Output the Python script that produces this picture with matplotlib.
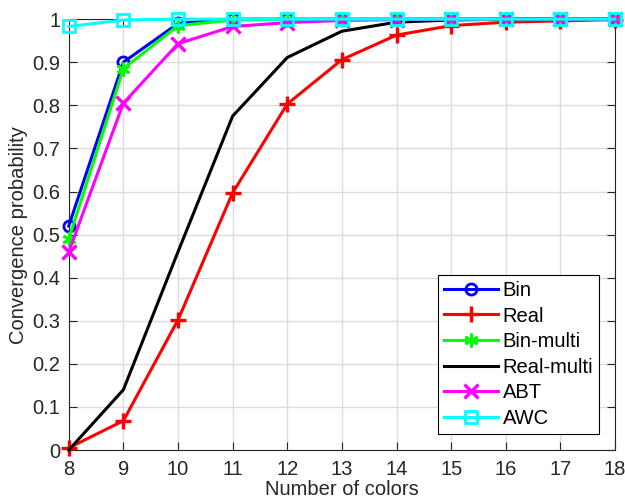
import numpy as np
import matplotlib.pyplot as plt

plt.rcParams['font.family'] = ['Liberation Sans', 'DejaVu Sans']

colors_n = [8, 9, 10, 11, 12, 13, 14, 15, 16, 17, 18]
p_bin = [0.52, 0.90, 0.99, 1.0, 1.0, 1.0, 1.0, 1.0, 1.0, 1.0, 1.0]
p_real = [0.005, 0.068, 0.302, 0.597, 0.803, 0.906, 0.963, 0.985, 0.993, 0.996, 0.999]
p_bin_multi = [0.49, 0.885, 0.985, 0.998, 0.999, 1.0, 1.0, 1.0, 1.0, 1.0, 1.0]
p_real_multi = [0.0, 0.14, 0.46, 0.775, 0.911, 0.972, 0.993, 0.998, 1.0, 1.0, 1.0]
p_abt = [0.46, 0.805, 0.943, 0.983, 0.992, 0.997, 0.999, 1.0, 1.0, 1.0, 1.0]
p_awc = [0.983, 0.998, 1.0, 1.0, 1.0, 1.0, 1.0, 1.0, 1.0, 1.0, 1.0]

fig = plt.figure(figsize=(6.25, 5.04), dpi=100)
ax = fig.add_axes([0.110, 0.107, 0.874, 0.855])

lw = 2.2
kw = dict(lw=lw, clip_on=False, zorder=3)
ax.plot(colors_n, p_bin, color='#0000ff', marker='o', ms=8, mfc='none', mew=2, label='Bin', **kw)
ax.plot(colors_n, p_real, color='#ff0000', marker='+', ms=12, mew=2.4, label='Real', **kw)
ax.plot(colors_n, p_bin_multi, color='#00ff00', marker=(6, 2, 0), ms=10, mew=2, label='Bin-multi', **kw)
ax.plot(colors_n, p_real_multi, color='black', label='Real-multi', **kw)
ax.plot(colors_n, p_abt, color='#ff00ff', marker='x', ms=10, mew=2.4, label='ABT', **kw)
ax.plot(colors_n, p_awc, color='#00ffff', marker='s', ms=8, mfc='none', mew=2, label='AWC', **kw)

ax.set_xlim(8, 18)
ax.set_ylim(0, 1)
ax.set_xticks(range(8, 19))
ax.set_yticks(np.arange(0, 1.01, 0.1))
ax.set_yticklabels(['0', '0.1', '0.2', '0.3', '0.4', '0.5', '0.6', '0.7', '0.8', '0.9', '1'])
ax.grid(True, color='#dcdcdc', lw=1.0)
ax.set_axisbelow(True)

axis_col = '#262626'
for s in ax.spines.values():
    s.set_color(axis_col)
    s.set_linewidth(0.8)
ax.tick_params(direction='in', length=6, width=0.8, colors=axis_col, labelsize=14.5,
               top=True, right=True, labelcolor=axis_col)
ax.tick_params(axis='x', pad=7)
ax.tick_params(axis='y', pad=6)

ax.set_xlabel('Number of colors', fontsize=14.5, color=axis_col, labelpad=1)
ax.set_ylabel('Convergence probability', fontsize=14.5, color=axis_col, labelpad=3)

leg = ax.legend(loc='lower right', bbox_to_anchor=(0.971, 0.037), fontsize=14.5,
                frameon=True, fancybox=False, edgecolor='black', framealpha=1,
                borderpad=0.3, labelspacing=0.33, handlelength=2.7, handletextpad=0.2,
                borderaxespad=0)
leg.get_frame().set_linewidth(0.8)
leg.set_zorder(5)

fig.savefig('out.png', dpi=100)
